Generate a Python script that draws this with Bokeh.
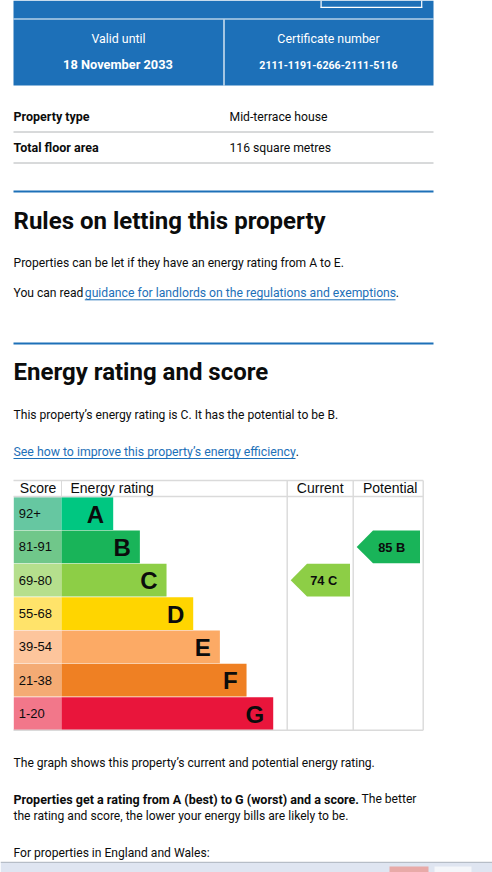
from bokeh.plotting import figure
from bokeh.models import Range1d, ColumnDataSource
from bokeh.core.properties import value
from bokeh.embed import file_html
from bokeh.resources import INLINE

# ---------------- data ----------------
bands = ["A", "B", "C", "D", "E", "F", "G"]
score_ranges = ["92+", "81-91", "69-80", "55-68", "39-54", "21-38", "1-20"]
band_min = [92, 81, 69, 55, 39, 21, 1]
bar_colors = ["#00c781", "#19b459", "#8dce46", "#ffd500", "#fcaa65", "#ef8023", "#e9153b"]
score_colors = ["#66c7a1", "#70c78a", "#b5df8d", "#ffe36a", "#fdc59c", "#f4ab74", "#f2778a"]
current_score = 74
potential_score = 85
valid_until = "18 November 2033"
certificate_number = "2111-1191-6266-2111-5116"
property_type = "Mid-terrace house"
floor_area = "116 square metres"

# ---------------- figure ----------------
W, H = 492, 872
p = figure(width=W, height=H, x_range=Range1d(0, W), y_range=Range1d(H, 0),
           output_backend="svg", toolbar_location=None, tools="", min_border=0,
           x_axis_location=None, y_axis_location=None)
p.grid.visible = False
p.outline_line_color = None
p.background_fill_color = "white"
p.border_fill_color = "white"

INK = "#0b0c0c"
BLUE = "#1d70b8"
BODY = "Roboto"
CHART = "Liberation Sans"
BASE_K = 0.38  # empirical baseline correction


def T(x, y, s, size, color=INK, bold=False, align="left", font=BODY):
    p.text(x=[x], y=[y - BASE_K * size], text=[s], text_font=value(font),
           text_font_size=f"{size}px",
           text_font_style="bold" if bold else "normal", text_color=color,
           text_align=align, text_baseline="alphabetic")


def HL(x0, x1, y, color, w=1.0):
    p.segment(x0=[x0], x1=[x1], y0=[y], y1=[y], line_color=color, line_width=w)


def VL(x, y0, y1, color, w=1.0):
    p.segment(x0=[x], x1=[x], y0=[y0], y1=[y1], line_color=color, line_width=w)


# ---------------- blue summary header ----------------
p.quad(left=[13], right=[433], top=[0], bottom=[85], fill_color=BLUE, line_color=None)
HL(13, 433, 18.5, "white", 1.2)
VL(223.5, 19, 85, "white", 1.2)
VL(320.6, 0, 7.3, "white", 1.2)
VL(421.2, 0, 7.3, "white", 1.2)
HL(320, 421.8, 6.8, "white", 1.2)
T(118, 42.7, "Valid until", 12.4, color="white", align="center")
T(117.5, 69, valid_until, 12.8, color="white", bold=True, align="center")
T(328, 42.7, "Certificate number", 12.4, color="white", align="center")
T(328, 69, certificate_number, 10.6, color="white", bold=True, align="center")

# ---------------- property summary rows ----------------
T(13, 120.7, "Property type", 12.5, bold=True)
T(229, 120.7, property_type, 12.2)
HL(13, 433, 131.5, "#b1b4b6", 1)
T(13, 151.7, "Total floor area", 12.5, bold=True)
T(229, 151.7, floor_area, 12.2)
HL(13, 433, 162.5, "#b1b4b6", 1)

# ---------------- rules on letting ----------------
HL(13, 433, 191, BLUE, 2)
T(13, 229.3, "Rules on letting this property", 24, bold=True)
T(13, 266.7, "Properties can be let if they have an energy rating from A to E.", 12.1)
T(13, 297, "You can read", 12.1)
T(84.3, 297, "guidance for landlords on the regulations and exemptions", 12.2, color=BLUE)
HL(84.3, 395, 299.3, BLUE, 1)
T(395.3, 297, ".", 12.1)

# ---------------- energy rating and score ----------------
HL(13, 433, 343, BLUE, 2)
T(13, 381, "Energy rating and score", 24, bold=True)
T(13, 419.3, "This property\u2019s energy rating is C. It has the potential to be B.", 12.1)
T(13, 456, "See how to improve this property\u2019s energy efficiency", 12.3, color=BLUE)
HL(13, 295, 458.0, BLUE, 1)
T(295.3, 456, ".", 12.1)

# ---------------- EPC chart ----------------
row_top0 = 496.7
row_h = 33.33
score_l, score_r = 13.3, 61.0
bar_base, bar_step = 51.7, 26.67
cur_l, cur_r, pot_r = 286.7, 352.7, 422.7
letter_size, range_size = 24, 13

tops = [row_top0 + i * row_h for i in range(len(bands))]
bottoms = [t + row_h - 0.6 for t in tops]
rights = [score_r + bar_base + bar_step * i for i in range(len(bands))]
centers = [t + row_h / 2 for t in tops]

src = ColumnDataSource(dict(top=tops, bottom=bottoms, right=rights,
                            band=bands, rng=score_ranges, bar=bar_colors, sc=score_colors,
                            letter_x=[r - 9 for r in rights],
                            letter_y=[c + 9.4 - BASE_K * letter_size for c in centers],
                            rng_y=[c + 4.5 - BASE_K * range_size for c in centers]))
p.quad(left=score_l, right=score_r, top="top", bottom="bottom", fill_color="sc",
       line_color=None, source=src)
p.quad(left=score_r, right="right", top="top", bottom="bottom", fill_color="bar",
       line_color=None, source=src)
p.text(x=18.3, y="rng_y", text="rng", source=src, text_font=value(CHART),
       text_font_size=f"{range_size}px", text_color=INK, text_baseline="alphabetic")
p.text(x="letter_x", y="letter_y", text="band", source=src, text_font=value(CHART),
       text_font_size=f"{letter_size}px", text_font_style="bold", text_color=INK,
       text_align="right", text_baseline="alphabetic")

# table lines
GRID = "#dadada"
table_top, head_bot, table_bot = 480, 496, 729.7
HL(13, pot_r, table_top, GRID, 1.4)
HL(13, pot_r, head_bot, GRID, 1.4)
HL(13, pot_r, table_bot, GRID, 1.4)
VL(score_r, table_top, head_bot, GRID, 1.0)
for x in (cur_l, cur_r, pot_r):
    VL(x, table_top, table_bot, GRID, 1.4)

T(19.3, 492.7, "Score", 14, font=CHART)
T(70, 492.7, "Energy rating", 14, font=CHART)
T(319.7, 492.7, "Current", 14, font=CHART, align="center")
T(389.7, 492.7, "Potential", 14, font=CHART, align="center")


def band_index(score):
    for i, m in enumerate(band_min):
        if score >= m:
            return i
    return len(band_min) - 1


def arrow(score, col_l, col_r):
    i = band_index(score)
    t, b = tops[i], tops[i] + row_h - 0.6
    tip = col_l + 3.5
    shoulder = tip + 16.3
    right = col_r - 3.2
    mid = (t + b) / 2
    p.patch(x=[tip, shoulder, right, right, shoulder], y=[mid, t, t, b, b],
            fill_color=bar_colors[i], line_color=None)
    T((shoulder + right) / 2 - 3, mid + 5, f"{score}  {bands[i]}", 12.8, bold=True, font=CHART,
      align="center")


arrow(current_score, cur_l, cur_r)
arrow(potential_score, cur_r, pot_r)

# ---------------- text below chart ----------------
T(13, 767.5, "The graph shows this property\u2019s current and potential energy rating.", 12.1)
T(13, 803.5, "Properties get a rating from A (best) to G (worst) and a score.", 12.55, bold=True)
T(361, 803.5, "The better", 12.1)
T(13, 820.5, "the rating and score, the lower your energy bills are likely to be.", 12.1)
T(13, 857.3, "For properties in England and Wales:", 12.1)

# browser bar strip at the very bottom
p.quad(left=[0], right=[492], top=[862], bottom=[872], fill_color="#dfe5f1", line_color=None)
HL(0, 492, 861.8, "#a8afbb", 1)
p.quad(left=[389], right=[428], top=[866], bottom=[872], fill_color="#e8aaa8", line_color=None)
p.quad(left=[434], right=[471], top=[866], bottom=[872], fill_color="#f4f6fa", line_color=None)

open("out.html", "w").write(file_html(p, INLINE))
